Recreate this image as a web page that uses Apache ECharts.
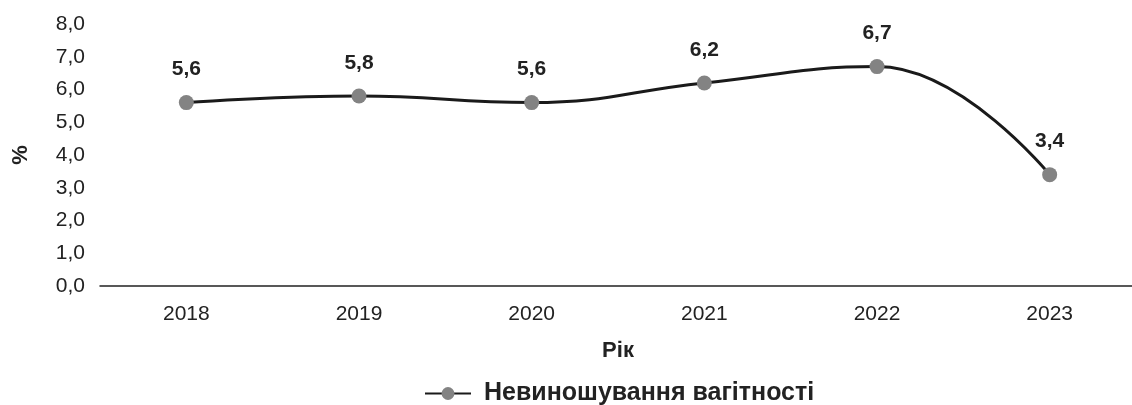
<!DOCTYPE html>
<html>
<head>
<meta charset="utf-8">
<script src="https://cdn.jsdelivr.net/npm/echarts@6/dist/echarts.min.js"></script>
<style>
  html, body { margin: 0; padding: 0; background: #fff; }
  #chart { width: 1132px; height: 405px; }
</style>
</head>
<body>
<div id="chart"></div>
<script>
const years = ['2018', '2019', '2020', '2021', '2022', '2023']
const values = [5.6, 5.8, 5.6, 6.2, 6.7, 3.4]
const seriesName = 'Невиношування вагітності'

// decimal comma, one digit
const fmt = v => v.toFixed(1).replace('.', ',')

const chart = echarts.init(document.getElementById('chart'))
chart.setOption({
  animation: false,
  textStyle: { fontFamily: 'Liberation Sans, Arial, sans-serif' },
  grid: { left: 100, top: 24, width: 1036, height: 262, outerBoundsMode: 'none', containLabel: false },
  legend: {
    data: [seriesName],
    left: 419,
    top: 376,
    itemWidth: 46,
    itemHeight: 16,
    textStyle: { fontSize: 25, fontWeight: 'bold', color: '#222', padding: [0, 0, 0, 8] }
  },
  xAxis: {
    type: 'category',
    data: years,
    boundaryGap: true,
    name: 'Рік',
    nameLocation: 'middle',
    nameGap: 54,
    nameTextStyle: { fontSize: 22, fontWeight: 'bold', color: '#222' },
    axisLine: { lineStyle: { color: '#222', width: 1.5 } },
    axisTick: { length: 6, lineStyle: { color: '#222' } },
    axisLabel: { fontSize: 21, color: '#222', margin: 18 }
  },
  yAxis: {
    type: 'value',
    min: 0,
    max: 8,
    interval: 1,
    name: '%',
    nameLocation: 'middle',
    nameGap: 68,
    nameRotate: 90,
    nameTextStyle: { fontSize: 22, fontWeight: 'bold', color: '#222' },
    axisLine: { show: false },
    axisTick: { show: false },
    splitLine: { show: false },
    axisLabel: { fontSize: 21, color: '#222', margin: 15, formatter: v => fmt(v) }
  },
  series: [
    {
      name: seriesName,
      type: 'line',
      data: values,
      smooth: 0.45,
      symbol: 'circle',
      symbolSize: 15,
      lineStyle: { color: '#1a1a1a', width: 3 },
      itemStyle: { color: '#838383' },
      label: {
        show: true,
        position: 'top',
        distance: 15,
        fontSize: 21,
        fontWeight: 'bold',
        color: '#222',
        formatter: p => fmt(p.value)
      }
    }
  ]
})
</script>
</body>
</html>
